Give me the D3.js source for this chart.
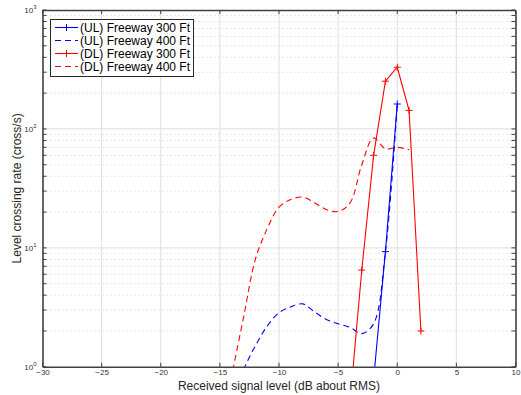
<!DOCTYPE html>
<html><head><meta charset="utf-8">
<script src="https://cdn.jsdelivr.net/npm/d3@7"></script>
<style>body{margin:0;background:#fff}svg{display:block}</style>
</head><body>
<svg id="c" width="521" height="395"></svg>
<script>
const xTicks = [-30,-25,-20,-15,-10,-5,0,5,10];
const yDecades = [0,1,2,3];

const ulX300 = [-2,-1,0];
const ulY300 = [0.78,9.3,162];
const ulX400 = [-14,-13,-12,-11,-10,-9,-8,-7,-6,-5,-4,-3,-2,-1,0];
const ulY400 = [0.55,0.95,1.5,2.2,2.85,3.2,3.38,2.9,2.5,2.3,2.15,1.9,2.3,9.3,162];
const dlX300 = [-4,-3,-2,-1,0,1,2];
const dlY300 = [0.5,6.5,60,252,330,143,2.0];
const dlX400 = [-15,-14,-13,-12,-11,-10,-9,-8,-7,-6,-5,-4,-3,-2,-1,0,1];
const dlY400 = [0.3,0.85,2.6,8.0,14.5,22,25.5,26.7,24,21,20.2,23.8,50,84,68,70,67];

const seriesNames = ["(UL) Freeway 300 Ft","(UL) Freeway 400 Ft","(DL) Freeway 300 Ft","(DL) Freeway 400 Ft"];

const svg = d3.select("#c");
const L=42.5, R=515.5, T=10, B=366.8;
const x = d3.scaleLinear().domain([-30,10]).range([L,R]);
const y = d3.scaleLog().domain([1,1000]).range([B,T]);

// grid
const g = svg.append("g");
const minor = [];
for (let d=0; d<3; d++) for (let m=2; m<=9; m++) minor.push(m*Math.pow(10,d));
g.selectAll(".mg").data(minor).enter().append("line")
  .attr("x1",L).attr("x2",R).attr("y1",d=>y(d)).attr("y2",d=>y(d))
  .attr("stroke","#cfcfcf").attr("stroke-width",1).attr("stroke-dasharray","1,3");
g.selectAll(".vg").data(xTicks.slice(1,-1)).enter().append("line")
  .attr("x1",d=>x(d)).attr("x2",d=>x(d)).attr("y1",T).attr("y2",B)
  .attr("stroke","#e3e3e3").attr("stroke-width",1.2);
g.selectAll(".hg").data([10,100]).enter().append("line")
  .attr("x1",L).attr("x2",R).attr("y1",d=>y(d)).attr("y2",d=>y(d))
  .attr("stroke","#e3e3e3").attr("stroke-width",1.2);

// clip
svg.append("clipPath").attr("id","clip").append("rect").attr("x",L).attr("y",T).attr("width",R-L).attr("height",B-T);
const plot = svg.append("g").attr("clip-path","url(#clip)");

function drawLine(xs, ys, color, dashed, markers, curve){
  const data = xs.map((v,i)=>[v,ys[i]]);
  const line = d3.line().x(d=>x(d[0])).y(d=>y(d[1])).curve(curve||d3.curveLinear);
  plot.append("path").attr("d",line(data)).attr("fill","none").attr("stroke",color)
    .attr("stroke-width",1.1).attr("stroke-dasharray",dashed?"6,4":null);
  if (markers){
    data.forEach(d=>{
      const cx=x(d[0]), cy=y(d[1]);
      plot.append("path").attr("d",`M${cx-3.5},${cy}H${cx+3.5}M${cx},${cy-3.5}V${cy+3.5}`)
        .attr("stroke",color).attr("stroke-width",1);
    });
  }
}
drawLine(dlX400, dlY400, "#ff0000", true, false, d3.curveCatmullRom.alpha(0.5));
drawLine(ulX400, ulY400, "#0000ff", true, false, d3.curveCatmullRom.alpha(0.5));
drawLine(dlX300, dlY300, "#ff0000", false, true);
drawLine(ulX300, ulY300, "#0000ff", false, true);

// axes box
const axc = "#404040";
const xb = svg.append("g").attr("transform",`translate(0,${B})`)
  .call(d3.axisBottom(x).tickValues(xTicks).tickSize(0).tickPadding(3).tickFormat(d3.format("d")));
const xt = svg.append("g").attr("transform",`translate(0,${T})`)
  .call(d3.axisTop(x).tickValues(xTicks).tickSize(0).tickFormat(""));
const yl = svg.append("g").attr("transform",`translate(${L},0)`)
  .call(d3.axisLeft(y).tickValues([]).tickSize(0));
const yr = svg.append("g").attr("transform",`translate(${R},0)`)
  .call(d3.axisRight(y).tickValues([]).tickSize(0));
[xb,xt,yl,yr].forEach(a=>{a.select(".domain").attr("stroke",axc).attr("stroke-width",1.6);});
xb.selectAll("text").attr("font-family","Liberation Sans, Arial, sans-serif").attr("font-size",8).attr("fill","#333");
xt.selectAll("text").remove();

// inward ticks
const ticksG = svg.append("g").attr("stroke",axc).attr("stroke-width",1);
xTicks.forEach(v=>{
  ticksG.append("line").attr("x1",x(v)).attr("x2",x(v)).attr("y1",B).attr("y2",B-4);
  ticksG.append("line").attr("x1",x(v)).attr("x2",x(v)).attr("y1",T).attr("y2",T+4);
});
const allY = minor.concat([1,10,100,1000]);
allY.forEach(v=>{
  ticksG.append("line").attr("x1",L).attr("x2",L+4).attr("y1",y(v)).attr("y2",y(v));
  ticksG.append("line").attr("x1",R).attr("x2",R-4).attr("y1",y(v)).attr("y2",y(v));
});

// y tick labels 10^n
yDecades.forEach(e=>{
  const t = svg.append("text").attr("x",L-6).attr("y",y(Math.pow(10,e))+3)
    .attr("text-anchor","end").attr("font-family","Liberation Sans, Arial, sans-serif")
    .attr("font-size",8).attr("fill","#333");
  t.append("tspan").text("10");
  t.append("tspan").attr("dy",-4).attr("font-size",6).text(String(e));
});

// axis labels
svg.append("text").attr("x",(L+R)/2).attr("y",389.5).attr("text-anchor","middle")
  .attr("font-family","Liberation Sans, Arial, sans-serif").attr("font-size",12).attr("fill","#262626")
  .text("Received signal level (dB about RMS)");
svg.append("text").attr("transform",`translate(21,${(T+B)/2}) rotate(-90)`).attr("text-anchor","middle")
  .attr("font-family","Liberation Sans, Arial, sans-serif").attr("font-size",12).attr("fill","#262626")
  .text("Level crossing rate (cross/s)");

// legend
const lg = svg.append("g");
lg.append("rect").attr("x",50.5).attr("y",19.5).attr("width",143).attr("height",57)
  .attr("fill","#fff").attr("stroke","#262626").attr("stroke-width",1);
const styles = [["#0000ff",false,true],["#0000ff",true,false],["#ff0000",false,true],["#ff0000",true,false]];
seriesNames.forEach((n,i)=>{
  const cy = 27.5 + i*13;
  const [c,dash,mk] = styles[i];
  lg.append("line").attr("x1",55).attr("x2",78).attr("y1",cy).attr("y2",cy)
    .attr("stroke",c).attr("stroke-width",1.1).attr("stroke-dasharray",dash?"6,4":null);
  if (mk) lg.append("path").attr("d",`M${66.5-3.5},${cy}H${66.5+3.5}M66.5,${cy-3.5}V${cy+3.5}`).attr("stroke",c);
  lg.append("text").attr("x",80).attr("y",cy+4.2).attr("font-family","Liberation Sans, Arial, sans-serif")
    .attr("font-size",12).attr("fill","#000").text(n);
});
</script>
</body></html>
